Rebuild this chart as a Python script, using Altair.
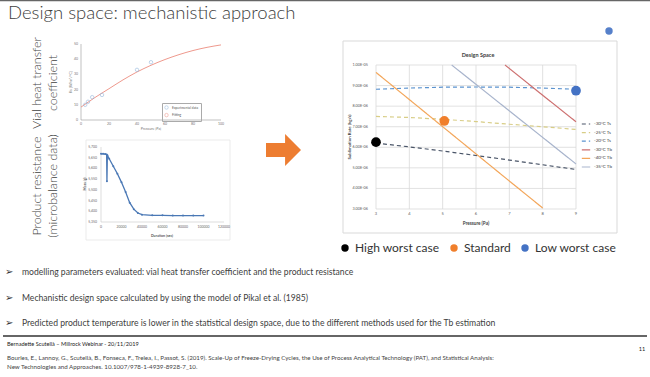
import altair as alt
import pandas as pd

W, H = 650, 377

# ---------------- data ----------------
# Design space (sublimation rate in 1e-6 kg/s)
PRESSURE_TICKS = [3, 4, 5, 6, 7, 8, 9]
PRESSURE_LABELS = ["3", "4", "5", "6", "7", "8", "9"]
RATE_TICKS = [3, 4, 5, 6, 7, 8, 9, 10]
RATE_LABELS = ["3.00E-06", "4.00E-06", "5.00E-06", "6.00E-06", "7.00E-06",
               "8.00E-06", "9.00E-06", "1.00E-05"]
SERIES = ["-30°C Ts", "-25°C Ts", "-20°C Ts", "-30°C Tb", "-40°C Tb", "-35°C Tb"]
S1_P = [3, 4, 5, 6, 7, 8, 9]
S1_R = [6.20, 6.02, 5.82, 5.60, 5.38, 5.15, 4.92]
S2_P = [3, 4, 5, 6, 7, 8, 9]
S2_R = [7.50, 7.45, 7.36, 7.25, 7.12, 7.00, 6.87]
S3_P = [3, 4, 5, 6, 7, 8, 9]
S3_R = [8.82, 8.88, 8.92, 8.93, 8.92, 8.88, 8.82]
S4_P = [6.87, 8, 9]
S4_R = [10.0, 8.53, 7.24]
S5_P = [3, 4, 5, 6, 7, 8]
S5_R = [9.64, 8.32, 7.00, 5.68, 4.36, 3.05]
S6_P = [5.27, 6, 7, 8, 9]
S6_R = [10.0, 9.06, 7.77, 6.48, 5.19]
CASES = ["High worst case", "Standard", "Low worst case"]
CASE_P = [3.0, 5.05, 9.0]
CASE_R = [6.25, 7.28, 8.75]

# Vial heat transfer coefficient
KV_TICKS_X = [0, 20, 40, 60, 80, 100]
KV_LABELS_X = ["0", "20", "40", "60", "80", "100"]
KV_TICKS_Y = [0, 10, 20, 30, 40, 50]
KV_LABELS_Y = ["0", "10", "20", "30", "40", "50"]
KV_EXP_P = [3, 5, 8, 15, 40, 50]
KV_EXP = [10.0, 12.0, 15.0, 16.5, 33.0, 38.0]
KV_FIT_P = [0, 10, 20, 30, 40, 50, 60, 70, 80, 90, 100]
KV_FIT = [8.5, 14.8, 20.6, 26.4, 31.6, 36.0, 39.8, 43.0, 45.7, 47.8, 49.4]
KV_KINDS = ["Experimental data", "Fitting"]

# Microbalance mass
MASS_TICKS_X = [0, 20000, 40000, 60000, 80000, 100000, 120000]
MASS_LABELS_X = ["0", "20000", "40000", "60000", "80000", "100000", "120000"]
MASS_TICKS_Y = [5.35, 5.40, 5.45, 5.50, 5.55, 5.60, 5.65, 5.70]
MASS_LABELS_Y = ["5,350", "5,400", "5,450", "5,500", "5,550", "5,600", "5,650", "5,700"]
MASS_T = [0, 2000, 4000, 5500, 5800, 6200, 8000, 12000, 16000, 20000, 24000,
          28000, 32000, 36000, 40000, 50000, 60000, 70000, 80000, 90000, 100000]
MASS_G = [5.668, 5.668, 5.667, 5.665, 5.54, 5.662, 5.645, 5.61, 5.575, 5.535, 5.49,
          5.44, 5.41, 5.392, 5.384, 5.381, 5.381, 5.380, 5.380, 5.380, 5.380]

# Texts
TITLE = "Design space: mechanistic approach"
SIDE_1 = ["Vial heat transfer", "coefficient"]
SIDE_2 = ["Product resistance", "(microbalance data)"]
DS_TITLE = "Design Space"
DS_XTITLE = "Pressure (Pa)"
DS_YTITLE = "Sublimation Rate (kg/s)"
KV_XTITLE = "Pressure [Pa]"
KV_YTITLE = "Kv [W/m²/°C]"
M_XTITLE = "Duration (sec)"
M_YTITLE = "Mass (g)"
BULLETS = [
    "modelling parameters evaluated: vial heat transfer coefficient and the product resistance",
    "Mechanistic design space calculated by using the model of Pikal et al. (1985)",
    "Predicted product temperature is lower in the statistical design space, due to the different methods used for the Tb estimation",
]
FOOTER = "Bernadette Scutellà – Millrock Webinar - 20/11/2019"
PAGE = "11"
REFERENCE = [
    "Bourles, E., Lannoy, G., Scutellà, B., Fonseca, F., Trelea, I., Passot, S. (2019). Scale-Up of Freeze-Drying Cycles, the Use of Process Analytical Technology (PAT), and Statistical Analysis:",
    "New Technologies and Approaches. 10.1007/978-1-4939-8928-7_10.",
]

FONT = "Lato"
TXT = "#404040"

# ---------------- helpers ----------------
one = pd.DataFrame({"k": [0]})


def label(text, x, y, size, color=TXT, font=FONT, weight="normal", align="left",
          baseline="middle", angle=0):
    return alt.Chart(pd.DataFrame({"t": [text]})).mark_text(
        fontSize=size, color=color, font=font, fontWeight=weight, align=align,
        baseline=baseline, angle=angle
    ).encode(text="t:N", x=alt.value(x), y=alt.value(y))


def box(x1, x2, y1, y2, fill="white", stroke="#d9d9d9", sw=1):
    return alt.Chart(one).mark_rect(fill=fill, stroke=stroke, strokeWidth=sw).encode(
        x=alt.value(x1), x2=alt.value(x2), y=alt.value(y1), y2=alt.value(y2))


def xlabels(ticks, labels, xs, ypix, size, color):
    return alt.Chart(pd.DataFrame({"v": ticks, "lab": labels})).mark_text(
        fontSize=size, color=color, font=FONT, align="center", baseline="top").encode(
        x=alt.X("v:Q", scale=xs, axis=None), y=alt.value(ypix), text="lab:N")


def ylabels(ticks, labels, ys, xpix, size, color):
    return alt.Chart(pd.DataFrame({"v": ticks, "lab": labels})).mark_text(
        fontSize=size, color=color, font=FONT, align="right", baseline="middle").encode(
        y=alt.Y("v:Q", scale=ys, axis=None), x=alt.value(xpix), text="lab:N")


def vrule(xs, ys, xv, y0, y1, color, sw):
    return alt.Chart(one).mark_rule(color=color, strokeWidth=sw).encode(
        x=alt.XDatum(xv, scale=xs, axis=None),
        y=alt.YDatum(y0, scale=ys, axis=None), y2=alt.Y2Datum(y1))


def hrule(xs, ys, yv, x0, x1, color, sw):
    return alt.Chart(one).mark_rule(color=color, strokeWidth=sw).encode(
        y=alt.YDatum(yv, scale=ys, axis=None),
        x=alt.XDatum(x0, scale=xs, axis=None), x2=alt.X2Datum(x1))


# ---------------- design space ----------------
XS = alt.Scale(domain=[3, 9], range=[376, 576], nice=False, zero=False)
YS = alt.Scale(domain=[3, 10], range=[209, 65], nice=False, zero=False)

rows = []
for name, ps, rs in zip(SERIES, [S1_P, S2_P, S3_P, S4_P, S5_P, S6_P],
                        [S1_R, S2_R, S3_R, S4_R, S5_R, S6_R]):
    for p, r in zip(ps, rs):
        rows.append({"series": name, "p": p, "r": r})
ds_lines_df = pd.DataFrame(rows)

ds_leg = alt.Legend(orient="none", legendX=581, legendY=119, title=None,
                    labelFontSize=4.5, labelFont=FONT, labelColor=TXT,
                    symbolSize=70, symbolStrokeWidth=1.2, rowPadding=0.6,
                    labelOffset=3, padding=0)

gx = alt.Chart(pd.DataFrame({"v": PRESSURE_TICKS})).mark_rule(
    color="#d9d9d9", strokeWidth=0.8).encode(
    x=alt.X("v:Q", scale=XS, axis=None),
    y=alt.YDatum(3, scale=YS, axis=None), y2=alt.Y2Datum(10))
gy = alt.Chart(pd.DataFrame({"v": RATE_TICKS})).mark_rule(
    color="#d9d9d9", strokeWidth=0.8).encode(
    y=alt.Y("v:Q", scale=YS, axis=None),
    x=alt.XDatum(3, scale=XS, axis=None), x2=alt.X2Datum(9))

ds_lines = alt.Chart(ds_lines_df).mark_line(strokeWidth=1.2).encode(
    x=alt.X("p:Q", scale=XS, axis=None),
    y=alt.Y("r:Q", scale=YS, axis=None),
    color=alt.Color("series:N", scale=alt.Scale(
        domain=SERIES,
        range=["#4a5568", "#d8cd86", "#5b93cf", "#cd6f6f", "#f3a65a", "#a8b4cc"]),
        legend=ds_leg),
    strokeDash=alt.StrokeDash("series:N", scale=alt.Scale(
        domain=SERIES, range=[[4, 3], [4, 3], [4, 3], [1, 0], [1, 0], [1, 0]]),
        legend=ds_leg),
    detail="series:N",
)

ds_points = alt.Chart(pd.DataFrame({"case": CASES, "p": CASE_P, "r": CASE_R})).mark_circle(
    size=95, opacity=1).encode(
    x=alt.X("p:Q", scale=XS, axis=None),
    y=alt.Y("r:Q", scale=YS, axis=None),
    fill=alt.Fill("case:N", scale=alt.Scale(domain=CASES, range=["#000000", "#f07f2c", "#4472c4"]),
                  legend=alt.Legend(orient="none", legendX=339, legendY=242, direction="horizontal",
                                    title=None, symbolType="circle", symbolSize=55,
                                    symbolStrokeWidth=0, labelFontSize=12, labelFont=FONT,
                                    labelColor="#333333", columnPadding=8, labelOffset=4,
                                    padding=0)),
)

ds = alt.layer(
    gx, gy,
    xlabels(PRESSURE_TICKS, PRESSURE_LABELS, XS, 212, 4.0, "#595959"),
    ylabels(RATE_TICKS, RATE_LABELS, YS, 368, 3.8, "#595959"),
    ds_lines, ds_points,
)

# ---------------- Kv chart ----------------
KXS = alt.Scale(domain=[0, 100], range=[81, 221], nice=False, zero=False)
KYS = alt.Scale(domain=[0, 50], range=[120, 44], nice=False, zero=False)
kv_leg = alt.Legend(orient="none", legendX=162, legendY=103, title=None, labelFontSize=3.3,
                    labelFont=FONT, symbolSize=12, symbolStrokeWidth=0.7, strokeColor="#aaaaaa",
                    padding=2, rowPadding=0.6, labelOffset=3, labelColor="#555555")
KV_COLORS = alt.Scale(domain=KV_KINDS, range=["#8db3da", "#ec8d80"])
kv_fit = alt.Chart(pd.DataFrame({"p": KV_FIT_P, "kv": KV_FIT, "kind": [KV_KINDS[1]] * len(KV_FIT)})
                   ).mark_line(strokeWidth=0.9, interpolate="monotone").encode(
    x=alt.X("p:Q", scale=KXS, axis=None),
    y=alt.Y("kv:Q", scale=KYS, axis=None),
    stroke=alt.Stroke("kind:N", scale=KV_COLORS, legend=kv_leg),
)
kv_exp = alt.Chart(pd.DataFrame({"p": KV_EXP_P, "kv": KV_EXP, "kind": [KV_KINDS[0]] * len(KV_EXP)})
                   ).mark_point(shape="circle", size=12, strokeWidth=0.8, filled=False).encode(
    x=alt.X("p:Q", scale=KXS, axis=None),
    y=alt.Y("kv:Q", scale=KYS, axis=None),
    stroke=alt.Stroke("kind:N", scale=KV_COLORS, legend=kv_leg),
)
kv = alt.layer(
    vrule(KXS, KYS, 0, 0, 50, "#999999", 0.6),
    hrule(KXS, KYS, 0, 0, 100, "#999999", 0.6),
    xlabels(KV_TICKS_X, KV_LABELS_X, KXS, 122, 3.5, "#777777"),
    ylabels(KV_TICKS_Y, KV_LABELS_Y, KYS, 78, 3.5, "#777777"),
    kv_fit, kv_exp,
)

# ---------------- mass chart ----------------
MXS = alt.Scale(domain=[0, 120000], range=[101, 224], nice=False, zero=False)
MYS = alt.Scale(domain=[5.35, 5.70], range=[222, 147], nice=False, zero=False)
mass_line = alt.Chart(pd.DataFrame({"t": MASS_T, "m": MASS_G})).mark_line(
    color="#4a78b5", strokeWidth=1.3,
    point=alt.OverlayMarkDef(size=4, filled=True, color="#4a78b5")).encode(
    x=alt.X("t:Q", scale=MXS, axis=None),
    y=alt.Y("m:Q", scale=MYS, axis=None),
)
mass = alt.layer(
    vrule(MXS, MYS, 0, 5.35, 5.70, "#c8c8c8", 0.6),
    hrule(MXS, MYS, 5.35, 0, 120000, "#c8c8c8", 0.6),
    xlabels(MASS_TICKS_X, MASS_LABELS_X, MXS, 225, 3.4, "#666666"),
    ylabels(MASS_TICKS_Y, MASS_LABELS_Y, MYS, 97, 3.4, "#666666"),
    mass_line,
)

# ---------------- slide decorations & text ----------------
arrow = alt.Chart(one).mark_point(
    shape="M-1,-0.4L0.09,-0.4L0.09,-0.91L1,0L0.09,0.91L0.09,0.4L-1,0.4Z",
    filled=True, fill="#ed7d31", opacity=1, size=1225, strokeWidth=0).encode(
    x=alt.value(283.5), y=alt.value(150))

dot = alt.Chart(one).mark_circle(size=55, color="#4472c4", opacity=0.9).encode(
    x=alt.value(609), y=alt.value(31))

top_line = alt.Chart(one).mark_rule(color="#666666", strokeWidth=1.2).encode(
    x=alt.value(0), x2=alt.value(W), y=alt.value(0.6))
sep_line = alt.Chart(one).mark_rule(color="#333333", strokeWidth=1.3).encode(
    x=alt.value(3), x2=alt.value(647), y=alt.value(336))

layers = [
    box(343, 617, 41, 233),
    box(86, 230, 140, 240, stroke="#e6e6e6", sw=0.8),
    top_line,
    label(TITLE, 8, 19, 18.5, weight=300, baseline="alphabetic"),
    label(SIDE_1[0], 37, 83, 12.5, weight=300, align="center", angle=270),
    label(SIDE_1[1], 53, 83, 12.5, weight=300, align="center", angle=270),
    label(SIDE_2[0], 37, 186, 12.5, weight=300, align="center", angle=270),
    label(SIDE_2[1], 53, 186, 12.5, weight=300, align="center", angle=270),
    arrow,
    dot,
    label(DS_TITLE, 478, 55, 5.5, weight="bold", align="center"),
    label(DS_XTITLE, 476, 224, 4.6, weight="bold", align="center"),
    label(DS_YTITLE, 350, 137, 4.4, weight="bold", align="center", angle=270),
    label(KV_XTITLE, 151, 129, 3.6, color="#777777", align="center"),
    label(KV_YTITLE, 71, 82, 3.6, color="#777777", align="center", angle=270),
    label(M_XTITLE, 162, 236, 3.6, color="#555555", weight="bold", align="center"),
    label(M_YTITLE, 85, 184, 3.6, color="#555555", weight="bold", align="center", angle=270),
    sep_line,
]
for yy, b in zip([272, 298, 323], BULLETS):
    layers.append(label("➢", 5, yy, 10, color="#333333", font="DejaVu Sans"))
    layers.append(label(b, 22, yy, 8.6))
layers += [
    label(FOOTER, 7, 344, 5.6, color="#222222"),
    label(PAGE, 642, 349, 5.6, color="#222222", align="center"),
    label(REFERENCE[0], 7, 358, 6.2, color="#444444"),
    label(REFERENCE[1], 7, 367, 6.2, color="#444444"),
]

chart = alt.layer(*layers, ds, kv, mass).resolve_scale(
    x="independent", y="independent"
).properties(
    width=W, height=H, padding=0,
    autosize=alt.AutoSizeParams(type="none"),
    background="white",
).configure_view(stroke=None)

chart.save("out.html", embed_options={"renderer": "svg", "actions": False})
